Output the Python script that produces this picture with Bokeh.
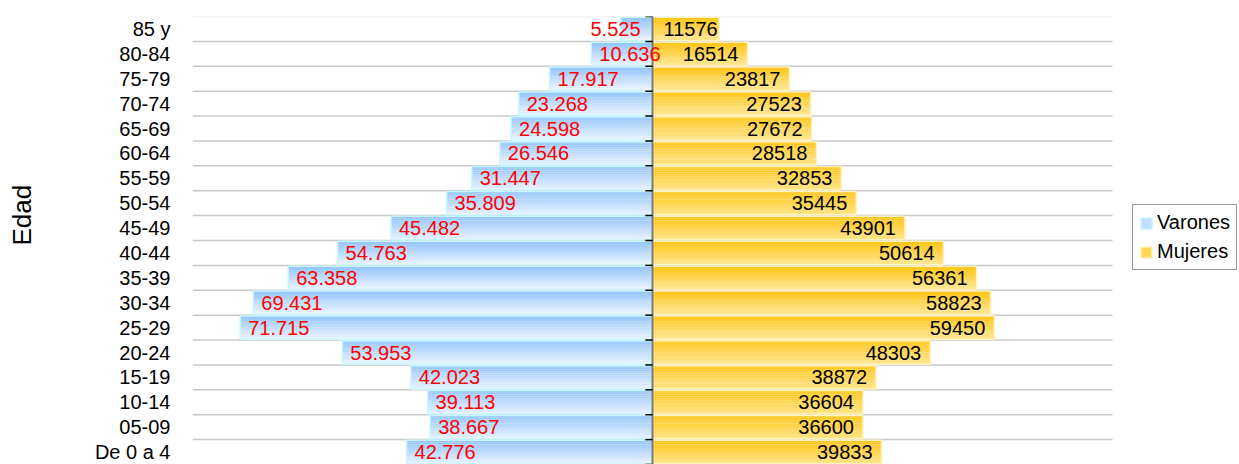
from bokeh.plotting import figure
from bokeh.models import (ColumnDataSource, FactorRange, Range1d, Legend, LegendItem)
from bokeh.core.properties import value
from bokeh.embed import file_html
from bokeh.resources import INLINE

# ---- data (top to bottom as in the chart) ----
edades = ["85 y", "80-84", "75-79", "70-74", "65-69", "60-64", "55-59", "50-54", "45-49",
          "40-44", "35-39", "30-34", "25-29", "20-24", "15-19", "10-14", "05-09", "De 0 a 4"]
varones = [5525, 10636, 17917, 23268, 24598, 26546, 31447, 35809, 45482,
           54763, 63358, 69431, 71715, 53953, 42023, 39113, 38667, 42776]
mujeres = [11576, 16514, 23817, 27523, 27672, 28518, 32853, 35445, 43901,
           50614, 56361, 58823, 59450, 48303, 38872, 36604, 36600, 39833]

cats = edades[::-1]
v = varones[::-1]
m = mujeres[::-1]

FONT = "Liberation Sans"
XMAX = 80000
PLOT_W = 920                     # width of the gridded area in px
EXTRA = 127                      # px to the right of the grid (legend zone)
x_hi = XMAX + EXTRA * (2 * XMAX) / PLOT_W

p = figure(width=1239, height=464, output_backend="svg", toolbar_location=None,
           x_range=Range1d(-XMAX, x_hi), y_range=FactorRange(factors=cats),
           min_border_left=192, min_border_right=0, min_border_top=16, min_border_bottom=0)
p.outline_line_color = None
p.xaxis.visible = False
p.xgrid.visible = False
p.ygrid.visible = False
p.background_fill_color = "white"

ax = p.yaxis[0]
ax.axis_line_color = None
ax.major_tick_line_color = None
ax.minor_tick_line_color = None
ax.major_label_text_font = FONT
ax.major_label_text_font_size = "20px"
ax.major_label_text_color = "black"
ax.major_label_standoff = 16
ax.axis_label = "\u00a0" * 7 + "Edad"
ax.axis_label_text_font = FONT
ax.axis_label_text_font_size = "26px"
ax.axis_label_text_font_style = "normal"
ax.axis_label_text_color = "black"
ax.axis_label_standoff = 55

# grid lines at row boundaries
n = len(cats)
gl_src = ColumnDataSource(dict(y=[(c, -0.5) for c in cats[1:]],
                               x0=[-XMAX] * (n - 1), x1=[XMAX] * (n - 1)))
p.segment(x0="x0", x1="x1", y0="y", y1="y", source=gl_src, line_color="#c8c8c8", line_width=1.5)
p.segment(x0=[-XMAX], x1=[XMAX], y0=[(cats[-1], 0.5)], y1=[(cats[-1], 0.5)],
          line_color="#eeeeee", line_width=2)

def hexrgb(h):
    h = h.lstrip("#")
    return tuple(int(h[i:i + 2], 16) for i in (0, 2, 4))

def lerp(a, b, t):
    ca, cb = hexrgb(a), hexrgb(b)
    return "#%02x%02x%02x" % tuple(round(ca[i] + (cb[i] - ca[i]) * t) for i in range(3))

H = 0.94
N = 12
def gradient_bars(left, right, top, bottom, border):
    mid = None
    for k in range(N):
        off = H / 2 - (k + 0.5) * H / N
        src = ColumnDataSource(dict(y=[(c, off) for c in cats], left=left, right=right))
        r = p.hbar(y="y", left="left", right="right", height=H / N * 1.1, source=src,
                   fill_color=lerp(top, bottom, k / (N - 1)), line_color=None)
        if k == N // 2:
            mid = r
    bsrc = ColumnDataSource(dict(y=cats, left=left, right=right))
    b = p.hbar(y="y", left="left", right="right", height=H, source=bsrc,
               fill_color=None, line_color=border, line_width=1.5)
    return [mid, b]

rv = gradient_bars([-x for x in v], [0] * len(v), "#96c6fa", "#e6f2fe", "#c8f7ff")
rm = gradient_bars([0] * len(m), m, "#ffc61c", "#ffe488", "#fff1c0")

# central axis with ticks
p.segment(x0=[0], x1=[0], y0=[(cats[0], -0.5)], y1=[(cats[-1], 0.5)],
          line_color="#7a7a7a", line_width=2)
tk = [(c, -0.5) for c in cats] + [(cats[-1], 0.5)]
p.segment(x0=[-1250] * len(tk), x1=[0] * len(tk), y0=tk, y1=tk, line_color="black", line_width=1.5)

# value labels
vx, va, vo = [], [], []
for x in v:
    if x < 8000:
        vx.append(0); va.append("right"); vo.append(-12)
    else:
        vx.append(-x); va.append("left"); vo.append(8)
mx, ma, mo = [], [], []
for x in m:
    if x < 13000:
        mx.append(0); ma.append("left"); mo.append(11)
    else:
        mx.append(x); ma.append("right"); mo.append(-9)

vsrc = ColumnDataSource(dict(x=vx, y=cats, t=[f"{x:,}".replace(",", ".") for x in v], a=va, o=vo))
p.text(x="x", y="y", text="t", text_align="a", x_offset="o", source=vsrc, text_baseline="middle",
       text_color="red", text_font=value(FONT), text_font_size="20px")
msrc = ColumnDataSource(dict(x=mx, y=cats, t=[str(x) for x in m], a=ma, o=mo))
p.text(x="x", y="y", text="t", text_align="a", x_offset="o", source=msrc, text_baseline="middle",
       text_color="black", text_font=value(FONT), text_font_size="20px")

legend = Legend(items=[LegendItem(label="Varones", renderers=rv),
                       LegendItem(label="Mujeres", renderers=rm)],
                location=(940, 194))
legend.label_text_font = FONT
legend.label_text_font_size = "20px"
legend.label_text_color = "black"
legend.glyph_width = 14
legend.glyph_height = 14
legend.label_standoff = 4
legend.padding = 6
legend.spacing = 6
legend.margin = 0
legend.border_line_color = "#333333"
legend.border_line_width = 1
legend.background_fill_alpha = 1
p.add_layout(legend, "center")

open("out.html", "w").write(file_html(p, INLINE))
